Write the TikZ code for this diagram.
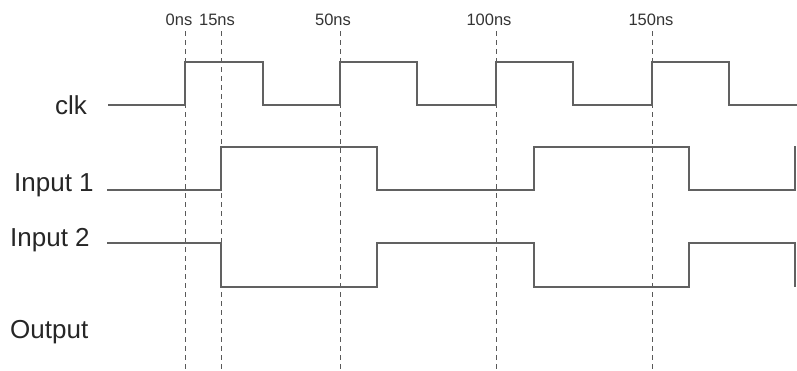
\documentclass[tikz,border=0pt]{standalone}
\usepackage{fontspec}
\setmainfont{Liberation Sans}
\begin{document}
\begin{tikzpicture}[x=1pt,y=-1pt,
  wave/.style={draw=black!62, line width=1.4pt, line join=miter},
  grid/.style={draw=black!65, line width=0.9pt, dash pattern=on 5pt off 4pt},
  siglabel/.style={anchor=base west, inner sep=0pt, text=black!85, font=\fontsize{26}{26}\selectfont},
  timelabel/.style={anchor=base, inner sep=0pt, text=black!80, font=\fontsize{16.5}{16.5}\selectfont}]
\useasboundingbox (0,0) rectangle (797,370);
% time markers
\foreach \x/\lx/\t/\n in {185/179/0ns/t0, 221/217/15ns/t15, 340/333/50ns/t50, 496/489/100ns/t100, 652/651/150ns/t150}{
  \node[timelabel] (\n) at (\lx,25) {\t};
  \coordinate (\n top) at (\x,31);
  \coordinate (\n bot) at (\x,370);
  \draw[grid] (\n top) -- (\n bot);
}
% labels
\node[siglabel] (clk) at (55,114) {clk};
\node[siglabel] (in1) at (14,191) {Input 1};
\node[siglabel] (in2) at (10,246) {Input 2};
\node[siglabel] (out) at (10,338) {Output};
% clk
\draw[wave] (108,105) -- (185,105) -- (185,62) -- (263,62) -- (263,105) -- (340,105) -- (340,62)
  -- (417,62) -- (417,105) -- (496,105) -- (496,62) -- (573,62) -- (573,105) -- (652,105) -- (652,62)
  -- (729,62) -- (729,105) -- (797,105);
% input 1
\draw[wave] (107,190) -- (221,190) -- (221,147) -- (377,147) -- (377,190) -- (534,190) -- (534,147)
  -- (689,147) -- (689,190) -- (795,190) -- (795,146);
% input 2
\draw[wave] (107,243) -- (221,243) -- (221,287) -- (377,287) -- (377,243) -- (534,243) -- (534,287)
  -- (689,287) -- (689,243) -- (795,243) -- (795,287);
\end{tikzpicture}
\end{document}
